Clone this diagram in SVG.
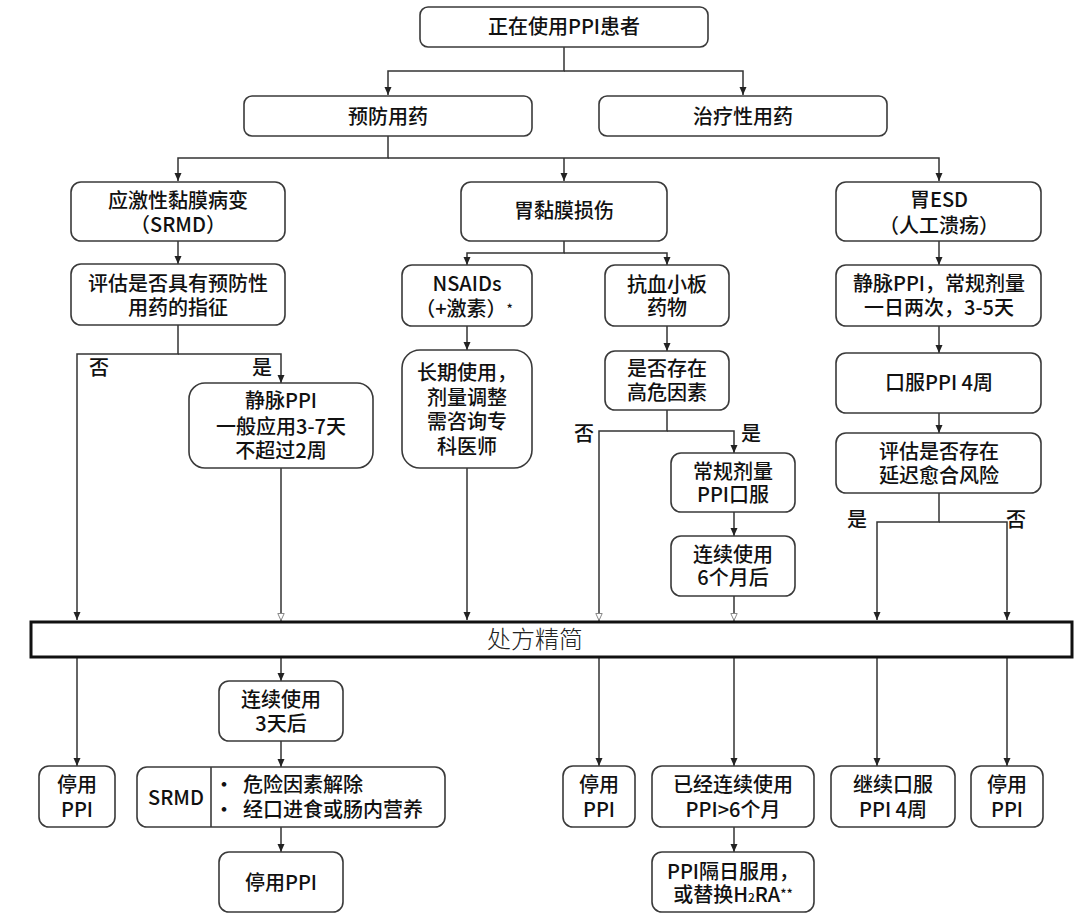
<svg xmlns="http://www.w3.org/2000/svg" width="1080" height="924" viewBox="0 0 1080 924">
<style>
.b{fill:#fff;stroke:#3a3a3a;stroke-width:1.6}
.t{font-family:"Noto Sans CJK SC","Noto Sans",sans-serif;font-size:20px;font-weight:500;fill:#111;text-anchor:middle}
.l{font-family:"Noto Sans CJK SC","Noto Sans",sans-serif;font-size:20px;font-weight:500;fill:#111;text-anchor:start}
.bar{font-family:"Noto Sans CJK SC","Noto Sans",sans-serif;font-size:24px;font-weight:300;fill:#222;text-anchor:middle}
.c{fill:none;stroke:#333;stroke-width:1.5}
.a{marker-end:url(#af)}
.h{marker-end:url(#ah)}
</style>
<defs>
<marker id="af" viewBox="0 0 8 8" refX="8" refY="4" markerWidth="8" markerHeight="8" markerUnits="userSpaceOnUse" orient="auto"><path d="M0,0.5 L8,4 L0,7.5 z" fill="#222"/></marker>
<marker id="ah" viewBox="0 0 8 8" refX="8" refY="4" markerWidth="8" markerHeight="8" markerUnits="userSpaceOnUse" orient="auto"><path d="M0.5,0.8 L7.5,4 L0.5,7.2 z" fill="#fff" stroke="#888" stroke-width="1"/></marker>
</defs>
<rect width="1080" height="924" fill="#fff"/>
<g id="connectors">
<path class="c a" d="M564,47 V71 H388 V95"/>
<path class="c a" d="M564,71 H743 V95"/>
<path class="c a" d="M388,136 V158 H178 V181"/>
<path class="c a" d="M388,158 H939 V181"/>
<path class="c a" d="M564,158 V181"/>
<path class="c a" d="M178,241 V264"/>
<path class="c a" d="M564,241 V253 H467 V265"/>
<path class="c a" d="M564,253 H667 V265"/>
<path class="c a" d="M939,241 V265"/>
<path class="c a" d="M178,325 V354 H77 V620"/>
<path class="c a" d="M178,354 H281 V383"/>
<path class="c a" d="M467,326 V350"/>
<path class="c a" d="M667,326 V351"/>
<path class="c a" d="M939,326 V353"/>
<path class="c h" d="M281,468 V621"/>
<path class="c a" d="M467,468 V620"/>
<path class="c h" d="M667,410 V431 H599 V621"/>
<path class="c a" d="M667,431 H734 V453"/>
<path class="c a" d="M734,512 V536"/>
<path class="c h" d="M734,596 V621"/>
<path class="c a" d="M939,413 V433"/>
<path class="c a" d="M939,493 V522 H877 V620"/>
<path class="c a" d="M939,522 H1007 V620"/>
<path class="c a" d="M77,657 V766"/>
<path class="c a" d="M281,657 V681"/>
<path class="c a" d="M281,741 V767"/>
<path class="c a" d="M281,827 V852"/>
<path class="c a" d="M599,657 V766"/>
<path class="c a" d="M734,657 V766"/>
<path class="c a" d="M734,827 V852"/>
<path class="c a" d="M877,657 V766"/>
<path class="c a" d="M1007,657 V766"/>
<text class="t" x="99" y="375">否</text>
<text class="t" x="262" y="375">是</text>
<text class="t" x="584" y="441">否</text>
<text class="t" x="751" y="441">是</text>
<text class="t" x="857" y="527">是</text>
<text class="t" x="1016" y="527">否</text>
</g>
<g id="n_top"><rect class="b" x="420" y="7" width="288" height="40" rx="8"/><text class="t" x="564" y="34">正在使用PPI患者</text></g>
<g id="n_prevent"><rect class="b" x="244" y="96" width="288" height="40" rx="8"/><text class="t" x="388" y="124">预防用药</text></g>
<g id="n_treat"><rect class="b" x="599" y="96" width="288" height="40" rx="8"/><text class="t" x="743" y="124">治疗性用药</text></g>
<g id="n_srmd"><rect class="b" x="71" y="182" width="214" height="59" rx="10"/><text class="t" x="178" y="208">应激性黏膜病变</text><text class="t" x="178" y="232">（SRMD）</text></g>
<g id="n_injury"><rect class="b" x="461" y="182" width="206" height="59" rx="10"/><text class="t" x="564" y="218">胃黏膜损伤</text></g>
<g id="n_esd"><rect class="b" x="836" y="182" width="205" height="59" rx="10"/><text class="t" x="939" y="207">胃ESD</text><text class="t" x="939" y="233">（人工溃疡）</text></g>
<g id="n_eval1"><rect class="b" x="71" y="264" width="214" height="61" rx="10"/><text class="t" x="178" y="291">评估是否具有预防性</text><text class="t" x="178" y="315">用药的指征</text></g>
<g id="n_nsaids"><rect class="b" x="402" y="265" width="130" height="61" rx="10"/><text class="t" x="467" y="291">NSAIDs</text><text class="t" x="464" y="316">（+激素）<tspan font-size="13" dy="-2">*</tspan></text></g>
<g id="n_antiplt"><rect class="b" x="605" y="265" width="124" height="61" rx="10"/><text class="t" x="667" y="292">抗血小板</text><text class="t" x="667" y="315">药物</text></g>
<g id="n_iv"><rect class="b" x="836" y="265" width="205" height="61" rx="10"/><text class="t" x="939" y="291">静脉PPI，常规剂量</text><text class="t" x="939" y="315">一日两次，3-5天</text></g>
<g id="n_ivppi"><rect class="b" x="189" y="383" width="184" height="85" rx="16"/><text class="t" x="281" y="408">静脉PPI</text><text class="t" x="281" y="434">一般应用3-7天</text><text class="t" x="281" y="458">不超过2周</text></g>
<g id="n_long"><rect class="b" x="402" y="350" width="130" height="118" rx="18"/><text class="t" x="467" y="380">长期使用，</text><text class="t" x="467" y="405">剂量调整</text><text class="t" x="467" y="429">需咨询专</text><text class="t" x="467" y="454">科医师</text></g>
<g id="n_risk"><rect class="b" x="605" y="351" width="124" height="59" rx="10"/><text class="t" x="667" y="376">是否存在</text><text class="t" x="667" y="400">高危因素</text></g>
<g id="n_oral4"><rect class="b" x="836" y="353" width="205" height="60" rx="10"/><text class="t" x="939" y="390">口服PPI 4周</text></g>
<g id="n_regular"><rect class="b" x="671" y="453" width="124" height="59" rx="10"/><text class="t" x="733" y="479">常规剂量</text><text class="t" x="733" y="502">PPI口服</text></g>
<g id="n_eval2"><rect class="b" x="836" y="433" width="205" height="60" rx="10"/><text class="t" x="939" y="459">评估是否存在</text><text class="t" x="939" y="483">延迟愈合风险</text></g>
<g id="n_6m"><rect class="b" x="671" y="536" width="124" height="60" rx="10"/><text class="t" x="733" y="562">连续使用</text><text class="t" x="733" y="585">6个月后</text></g>
<g id="n_bar"><rect x="31" y="622" width="1041" height="35" fill="#fff" stroke="#111" stroke-width="3"/><text class="bar" x="535" y="648">处方精简</text></g>
<g id="n_stop1"><rect class="b" x="39" y="766" width="76" height="61" rx="10"/><text class="t" x="77" y="792">停用</text><text class="t" x="77" y="817">PPI</text></g>
<g id="n_3d"><rect class="b" x="219" y="681" width="124" height="60" rx="10"/><text class="t" x="281" y="707">连续使用</text><text class="t" x="281" y="731">3天后</text></g>
<g id="n_srmd2"><rect class="b" x="137" y="767" width="308" height="60" rx="10"/><line x1="211" y1="767" x2="211" y2="827" stroke="#3a3a3a" stroke-width="1.6"/><text class="t" x="176" y="805">SRMD</text><text class="l" x="214" y="792">•</text><text class="l" x="243" y="792">危险因素解除</text><text class="l" x="214" y="817">•</text><text class="l" x="243" y="817">经口进食或肠内营养</text></g>
<g id="n_stop2"><rect class="b" x="219" y="852" width="124" height="60" rx="10"/><text class="t" x="281" y="890">停用PPI</text></g>
<g id="n_stop3"><rect class="b" x="563" y="766" width="72" height="61" rx="10"/><text class="t" x="599" y="792">停用</text><text class="t" x="599" y="817">PPI</text></g>
<g id="n_used6"><rect class="b" x="652" y="766" width="162" height="61" rx="10"/><text class="t" x="733" y="792">已经连续使用</text><text class="t" x="733" y="817">PPI&gt;6个月</text></g>
<g id="n_alt"><rect class="b" x="652" y="852" width="162" height="60" rx="10"/><text class="t" x="733" y="879">PPI隔日服用，</text><text class="t" x="733" y="902">或替换H<tspan font-size="12">2</tspan>RA<tspan font-size="13" dy="-3">**</tspan></text></g>
<g id="n_cont"><rect class="b" x="831" y="766" width="124" height="61" rx="10"/><text class="t" x="893" y="792">继续口服</text><text class="t" x="893" y="817">PPI 4周</text></g>
<g id="n_stop4"><rect class="b" x="971" y="766" width="72" height="61" rx="10"/><text class="t" x="1007" y="792">停用</text><text class="t" x="1007" y="817">PPI</text></g>
</svg>
